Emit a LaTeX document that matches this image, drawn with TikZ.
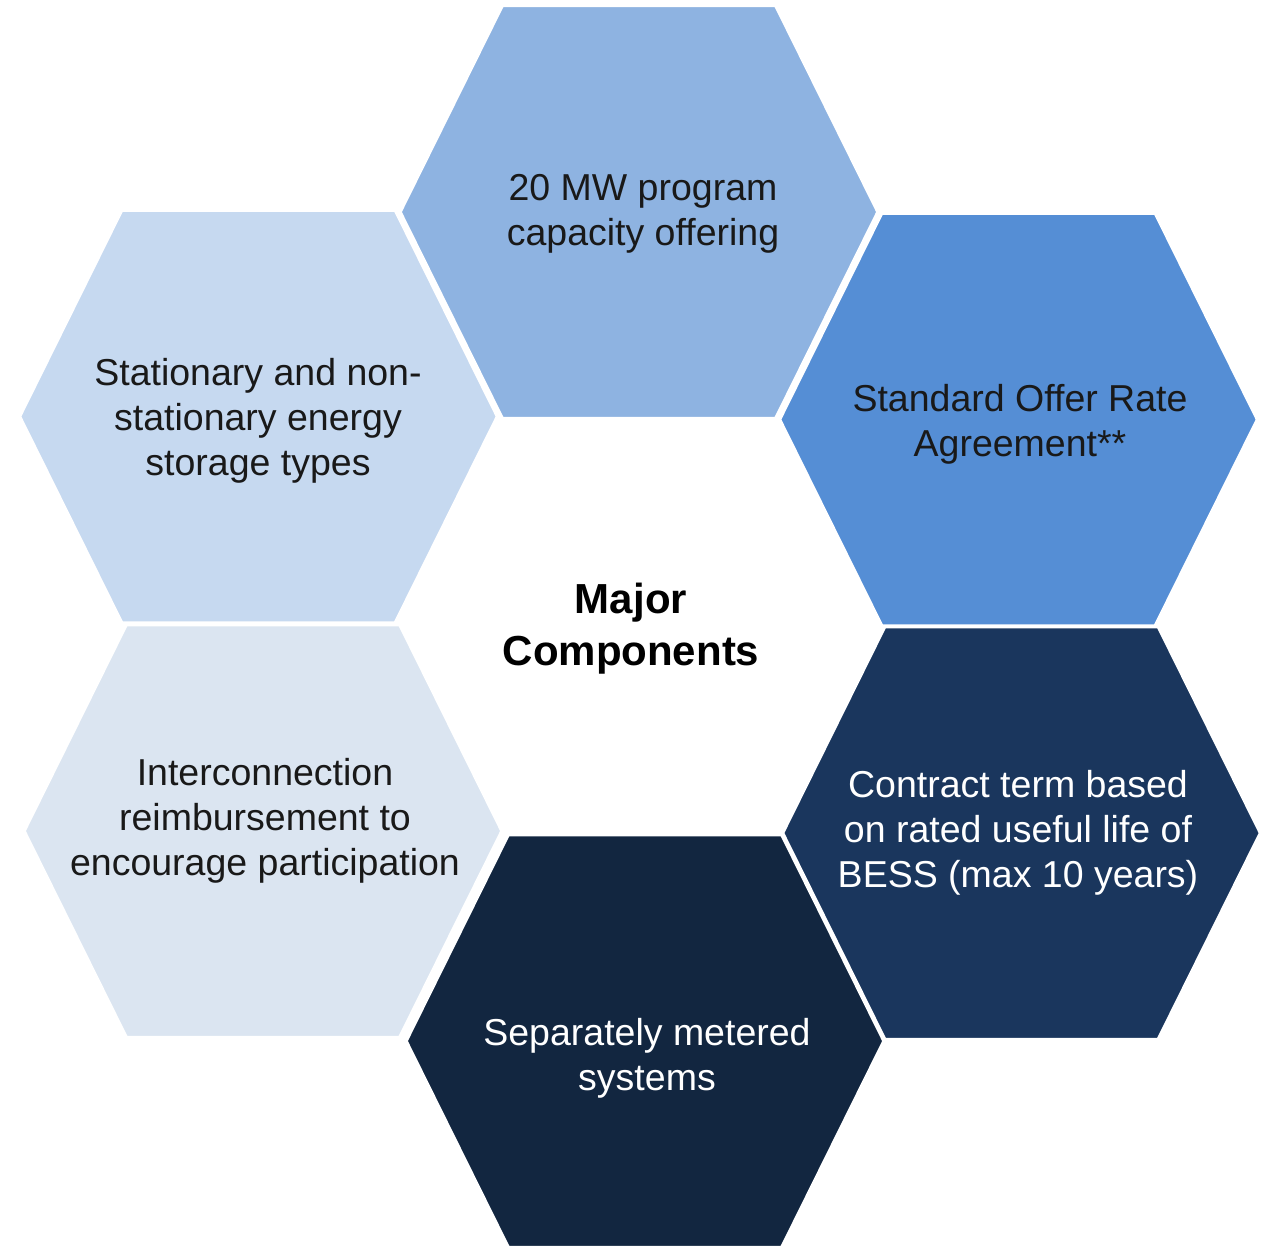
\documentclass[tikz,border=0pt]{standalone}
\usepackage{fontspec}
\setmainfont{Liberation Sans}
\definecolor{hA}{HTML}{8EB3E1}
\definecolor{hB}{HTML}{558ED5}
\definecolor{hC}{HTML}{1A365D}
\definecolor{hD}{HTML}{122640}
\definecolor{hE}{HTML}{DBE5F1}
\definecolor{hF}{HTML}{C6D9F0}
\tikzset{
  hexa/.pic={\filldraw[pic actions,draw=white,line width=2.5pt]
    (-238.5,0) -- (-136.5,-206) -- (136.5,-206) -- (238.5,0) -- (136.5,206) -- (-136.5,206) -- cycle;},
  lbl/.style={align=center,font=\fontsize{37.5}{45}\selectfont,inner sep=0pt},
  dark/.style={lbl,text=white},
  lite/.style={lbl,text=black!90},
  hub/.style={align=center,font=\fontsize{42}{52}\selectfont\bfseries,inner sep=0pt}
}
\begin{document}
\begin{tikzpicture}[x=1pt,y=-1pt]
\useasboundingbox (0,0) rectangle (1261,1247);
\pic[fill=hA] at (639,212) {hexa};
\pic[fill=hF] at (258.5,416.5) {hexa};
\pic[fill=hB] at (1018.5,419.5) {hexa};
\pic[fill=hE] at (263,831) {hexa};
\pic[fill=hC] at (1021.5,833) {hexa};
\pic[fill=hD] at (645,1041) {hexa};
\node[lite] (t1) at (643,214) {20 MW program\\capacity offering};
\node[lite] (t2) at (258,421) {Stationary and non-\\stationary energy\\storage types};
\node[lite] (t3) at (1020,424) {Standard Offer Rate\\Agreement**};
\node[lite] (t4) at (265,821) {Interconnection\\reimbursement to\\encourage participation};
\node[dark] (t5) at (1018,833) {Contract term based\\on rated useful life of\\BESS (max 10 years)};
\node[dark] (t6) at (647,1058) {Separately metered\\systems};
\node[hub] (hub) at (631,629) {Major\\Components};
\end{tikzpicture}
\end{document}
